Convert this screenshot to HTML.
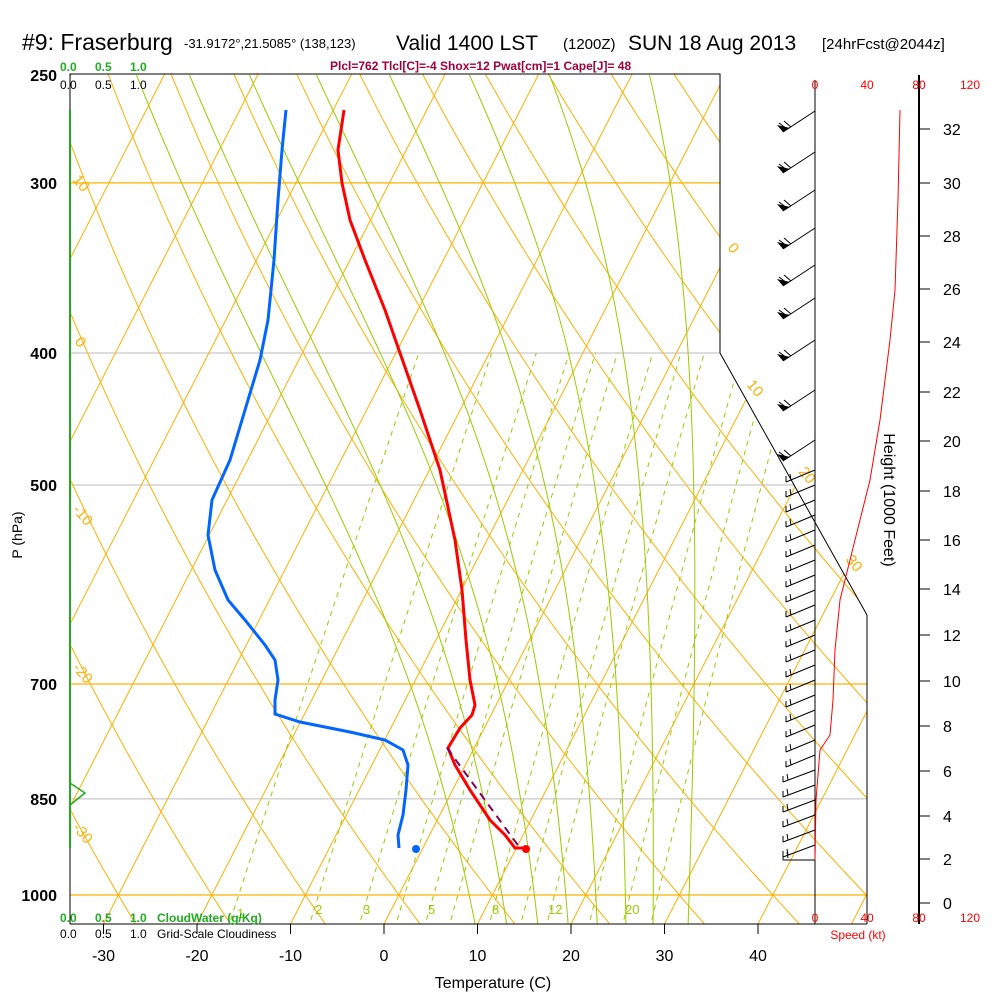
<!DOCTYPE html>
<html><head><meta charset="utf-8"><style>
body{margin:0;background:#fff;}
svg{display:block;font-family:"Liberation Sans",sans-serif;}
</style></head><body>
<svg id="s" width="1000" height="1000" viewBox="0 0 1000 1000" xmlns="http://www.w3.org/2000/svg">
<defs><clipPath id="c"><polygon points="70,74 720,74 720,353 867,615 867,924 70,924"/></clipPath></defs>
<g id="bg" clip-path="url(#c)"></g>
<g id="fg"></g>
<text x="22" y="50" font-size="23">#9: Fraserburg</text>
<text x="184" y="48" font-size="13">-31.9172°,21.5085° (138,123)</text>
<text x="396" y="50" font-size="21">Valid 1400 LST</text>
<text x="563" y="49" font-size="15">(1200Z)</text>
<text x="628" y="50" font-size="21">SUN 18 Aug 2013</text>
<text x="822" y="49" font-size="15">[24hrFcst@2044z]</text>
<text x="330" y="70" font-size="12" fill="#a0003c" font-weight="bold">Plcl=762 Tlcl[C]=-4 Shox=12 Pwat[cm]=1 Cape[J]= 48</text>
<g font-size="12" font-weight="bold" fill="#22aa22"><text x="60" y="71">0.0</text><text x="95" y="71">0.5</text><text x="130" y="71">1.0</text>
<text x="60" y="922">0.0</text><text x="95" y="922">0.5</text><text x="130" y="922">1.0</text><text x="157" y="922">CloudWater (g/Kg)</text></g>
<g font-size="12" fill="#000"><text x="60" y="89">0.0</text><text x="95" y="89">0.5</text><text x="130" y="89">1.0</text>
<text x="60" y="938">0.0</text><text x="95" y="938">0.5</text><text x="130" y="938">1.0</text><text x="157" y="938">Grid-Scale Cloudiness</text></g>
<g font-size="16" font-weight="bold" text-anchor="end"><text x="57" y="81">250</text><text x="57" y="189">300</text><text x="57" y="359">400</text><text x="57" y="491">500</text><text x="57" y="690">700</text><text x="57" y="805">850</text><text x="57" y="901">1000</text></g>
<text transform="translate(22,535) rotate(-90)" font-size="14" text-anchor="middle">P (hPa)</text>
<g font-size="16" text-anchor="middle" id="tl"></g>
<text x="493" y="988" font-size="16" text-anchor="middle">Temperature (C)</text>
<g font-size="12" fill="red" text-anchor="middle"><text x="815" y="89">0</text><text x="867" y="89">40</text><text x="919" y="89">80</text><text x="970" y="89">120</text>
<text x="815" y="922">0</text><text x="867" y="922">40</text><text x="919" y="922">80</text><text x="970" y="922">120</text></g>
<text x="858" y="939" font-size="12" fill="red" text-anchor="middle">Speed (kt)</text>
<g font-size="16" id="hl"></g>
<text transform="translate(884,500) rotate(90)" font-size="16" text-anchor="middle">Height (1000 Feet)</text>
</svg>
<script>
var NS="http://www.w3.org/2000/svg";
function el(p,t,a){var e=document.createElementNS(NS,t);for(var k in a)e.setAttribute(k,a[k]);p.appendChild(e);return e;}
var bg=document.getElementById('bg'),fg=document.getElementById('fg');
function Y(p){return 75+820*Math.log(p/250)/Math.log(4);}
function X(T,y){return 384+9.35*T+0.512*(924-y);}
function pl(pts){return pts.map(function(q){return q[0].toFixed(1)+','+q[1].toFixed(1)}).join(' ');}
[[300,'#ffb000',1.2],[400,'#bbb',1],[500,'#bbb',1],[700,'#ffb000',1.2],[850,'#bbb',1],[1000,'#ffb000',1.2]].forEach(function(a){el(bg,'line',{x1:70,x2:870,y1:Y(a[0]),y2:Y(a[0]),stroke:a[1],'stroke-width':a[2]});});
for(var T=-160;T<=60;T+=10){el(bg,'line',{x1:X(T,924),y1:924,x2:X(T,74),y2:74,stroke:'#ffb000','stroke-width':1});}
for(var t=-60;t<=200;t+=10){var th=t+273.15,pts=[];for(var p=1060;p>=240;p-=10){var Tc=th*Math.pow(p/1000,0.286)-273.15,y=Y(p);pts.push([X(Tc,y),y]);}el(bg,'polyline',{points:pl(pts),fill:'none',stroke:'#ffb000','stroke-width':1});}
function es(T){return 6.112*Math.exp(17.67*T/(T+243.5));}
function step(T,p,dp){var Tk=T+273.15,e=es(T),rs=0.622*e/(p-e);var d=(287*Tk+2.5e6*rs)/(1004+2.5e6*2.5e6*rs*0.622/(287*Tk*Tk))/p;return T+d*dp;}
[137,190,250,317,390,470,550,650].forEach(function(x0){var T=(x0-384-0.512*(924-74))/9.35,pts=[];for(var p=250;p<=1060;p+=5){var y=Y(p);pts.push([X(T,y),y]);T=step(T,p,5);}el(bg,'polyline',{points:pl(pts),fill:'none',stroke:'#99cc00','stroke-width':1});});
[1,2,3,4,5,6,8,10,12,16,20,24].forEach(function(w){var pts=[];for(var p=1060;p>=400;p-=10){var e=w*p/(622+w),L=Math.log(e/6.112),Tc=243.5*L/(17.67-L),y=Y(p);pts.push([X(Tc,y),y]);}el(bg,'polyline',{points:pl(pts),fill:'none',stroke:'#99cc00','stroke-width':1,'stroke-dasharray':'5,5'});});
[['1',237,918],['2',315,914],['3',363,914],['5',428,914],['8',492,914],['12',548,914],['20',625,914]].forEach(function(a){var t=el(fg,'text',{x:a[1],y:a[2],'font-size':13,fill:'#99cc00'});t.textContent=a[0];});
[['10',72,180],['0',74,342],['-10',72,510],['-20',72,668],['-30',72,828],['0',727,248],['10',746,385],['20',798,472],['30',845,560]].forEach(function(a){var t=el(fg,'text',{x:a[1],y:a[2],'font-size':15,fill:'#ffb000',transform:'rotate(50 '+a[1]+' '+a[2]+')'});t.textContent=a[0];});
el(fg,'polyline',{points:'70,924 70,74 720,74 720,353 867,615 867,924',fill:'none',stroke:'#000','stroke-width':1});
el(fg,'line',{x1:70,y1:924,x2:867,y2:924,stroke:'#000'});
el(fg,'line',{x1:70,y1:110,x2:70,y2:848,stroke:'#22aa22','stroke-width':2});
el(fg,'polyline',{points:'70,783 85,793 70,805',fill:'none',stroke:'#22aa22','stroke-width':1.5});
el(fg,'line',{x1:815,y1:80,x2:815,y2:924,stroke:'#000'});
el(fg,'line',{x1:919,y1:75,x2:919,y2:924,stroke:'#000','stroke-width':2});
var tl=document.getElementById('tl');
for(var T=-30;T<=40;T+=10){var x=384+9.35*T;el(fg,'line',{x1:x,y1:924,x2:x,y2:934,stroke:'#000'});var t=el(tl,'text',{x:x,y:961});t.textContent=T;}
var hl=document.getElementById('hl');
[[32,129],[30,183],[28,236],[26,289],[24,342],[22,392],[20,441],[18,491],[16,540],[14,589],[12,635],[10,681],[8,726],[6,771],[4,816],[2,859],[0,903]].forEach(function(a){el(fg,'line',{x1:919,y1:a[1],x2:930,y2:a[1],stroke:'#000'});var t=el(hl,'text',{x:943,y:a[1]+6});t.textContent=a[0];});
var ys=[111,152,190,228,265,298,340,390,440];
ys.forEach(function(y){el(fg,'line',{x1:815,y1:y,x2:783,y2:y+21,stroke:'#000'});el(fg,'polygon',{points:'783,'+(y+21)+' 777,'+(y+14)+' 790,'+(y+17),fill:'#000'});el(fg,'line',{x1:787,y1:y+18,x2:779,y2:y+12,stroke:'#000'});el(fg,'line',{x1:791,y1:y+16,x2:784,y2:y+10,stroke:'#000'});});
for(var y=470;y<=860;y+=15){var ey=Math.min(y+12,860),dx=(y>760)?32:29;el(fg,'line',{x1:815,y1:y,x2:815-dx,y2:ey,stroke:'#000'});el(fg,'line',{x1:815-dx,y1:ey,x2:815-dx,y2:ey-6,stroke:'#000'});el(fg,'line',{x1:815-dx+5,y1:ey-2,x2:815-dx+4,y2:ey-8,stroke:'#000'});}
el(fg,'polyline',{points:'900,110 898,200 895,290 890,340 880,420 870,480 855,540 840,600 835,650 833,700 830,735 820,750 816,800 815,860',fill:'none',stroke:'red','stroke-width':1});
el(fg,'polyline',{points:'286,110 282,150 278,200 274,260 268,320 260,360 245,410 230,460 212,500 208,535 215,570 228,600 245,620 265,645 275,660 278,680 275,700 275,714 300,722 350,732 385,740 403,750 408,765 406,790 403,815 398,835 399,848',fill:'none',stroke:'#0066ff','stroke-width':3});
el(fg,'polyline',{points:'344,110 338,150 342,183 350,220 365,260 385,310 400,353 420,410 440,470 455,540 462,590 466,640 470,680 475,705 472,715 460,728 448,748 455,765 470,790 490,820 505,835 515,848 525,848',fill:'none',stroke:'red','stroke-width':3});
el(fg,'line',{x1:447,y1:748,x2:520,y2:848,stroke:'#800060','stroke-width':2,'stroke-dasharray':'8,6'});
el(fg,'circle',{cx:416,cy:849,r:4,fill:'#0066ff'});
el(fg,'circle',{cx:526,cy:849,r:4,fill:'red'});
</script>
</body></html>
